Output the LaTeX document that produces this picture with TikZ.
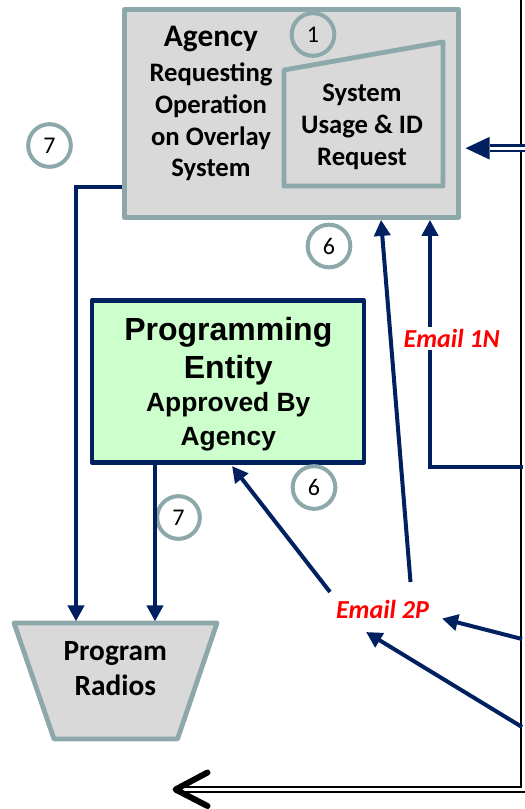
\documentclass[tikz,border=0pt]{standalone}
\usepackage{fontspec}
\setmainfont{Carlito}
\newfontfamily\arialf{Liberation Sans}
\usetikzlibrary{arrows.meta}
\definecolor{navyc}{HTML}{002060}
\definecolor{grayedge}{RGB}{140,168,170}
\definecolor{boxgray}{HTML}{D9D9D9}
\definecolor{progfill}{HTML}{CCFFCC}
\definecolor{redc}{HTML}{FF0000}
\begin{document}
\begin{tikzpicture}[x=0.75pt,y=-0.75pt,
  graybox/.style={draw=grayedge, fill=boxgray, line width=3.6pt, line join=round},
  agencybox/.style={graybox, rectangle, minimum width=250.5pt, minimum height=156pt, inner sep=0pt},
  progbox/.style={draw=navyc, fill=progfill, line width=3.6pt, line join=round, rectangle, minimum width=204pt, minimum height=121.5pt, inner sep=0pt},
  ghost/.style={rectangle, inner sep=0pt, outer sep=1.2pt, minimum width=152.25pt, minimum height=87pt},
  numcirc/.style={circle, draw=grayedge, line width=3pt, minimum size=32pt, inner sep=0pt, font=\fontsize{18}{18}\selectfont},
  conn/.style={draw=navyc, line width=3pt, -{Triangle[length=12pt,width=12pt]}},
  emaillbl/.style={text=redc, font=\fontsize{19.5}{19.5}\selectfont\bfseries\itshape, inner sep=1.5pt, anchor=base},
  agtitle/.style={font=\fontsize{23.5}{23.5}\selectfont\bfseries, anchor=base, inner sep=0pt},
  agsub/.style={font=\fontsize{20}{20}\selectfont\bfseries, anchor=base, inner sep=0pt},
  radtxt/.style={font=\fontsize{22}{22}\selectfont\bfseries, anchor=base, inner sep=0pt},
  progbig/.style={font=\arialf\fontsize{24}{24}\selectfont\bfseries, anchor=base, inner sep=0pt},
  progsmall/.style={font=\arialf\fontsize{19.8}{19.8}\selectfont\bfseries, anchor=base, inner sep=0pt}
]
\useasboundingbox (0,0) rectangle (524,809);

% black frame on the right and bottom
\coordinate (frTop) at (523.5,-6);
\coordinate (frCorner) at (523.5,789.5);
\coordinate (frEnd) at (182,789.5);
\draw[black, line width=1.6pt, double=white, double distance=2.2pt] (frTop) -- (frCorner) -- (frEnd);
\coordinate (chevTip) at (175.5,789.5);
\draw[black, line width=4.5pt, line cap=round, line join=round] (207.5,772.5) -- (chevTip) -- (207.5,806);

% Agency box
\node[agencybox] (agency) at (291.5,113.5) {};
\draw[graybox] (284,70) -- (443,42) -- (443,186) -- (284,186) -- cycle;
\node[agtitle] (agt1) at (211,47) {Agency};
\node[agsub] (agt2) at (211,82) {Requesting};
\node[agsub] (agt3) at (211,113.7) {Operation};
\node[agsub] (agt4) at (211,145.4) {on Overlay};
\node[agsub] (agt5) at (211,177) {System};
\node[agsub] (sr1) at (362,102) {System};
\node[agsub] (sr2) at (362,134) {Usage \& ID};
\node[agsub] (sr3) at (362,165.7) {Request};

% Programming entity
\node[progbox] (prog) at (228,381.5) {};
\node[progbig] (pe1) at (228.3,340) {Programming};
\node[progbig] (pe2) at (228.3,378.3) {Entity};
\node[progsmall] (pe3) at (228.3,411.7) {Approved By};
\node[progsmall] (pe4) at (228.3,445) {Agency};

% Program radios
\node[ghost] (radios) at (115.5,681) {};
\draw[graybox] (14,623) -- (217,623) -- (177.5,739) -- (54,739) -- cycle;
\node[radtxt] (pr1) at (115.3,660) {Program};
\node[radtxt] (pr2) at (115.3,695) {Radios};

% numbered circles
\node[numcirc] (n1) at (313,34.5) {1};
\node[numcirc] (n7a) at (49.5,145.5) {7};
\node[numcirc] (n6a) at (329,246) {6};
\node[numcirc] (n6b) at (314,487.5) {6};
\node[numcirc] (n7b) at (178.5,517.5) {7};

% connectors
\coordinate (bendA) at (76,187);
\draw[conn] (agency.west |- bendA) -- (bendA) -- (bendA |- radios.north);
\coordinate (dropB) at (155,500);
\draw[conn] (prog.south -| dropB) -- (dropB |- radios.north);

\node[emaillbl] (e2p) at (382.5,618.3) {Email 2P};
\coordinate (e2pA) at (330,592);
\coordinate (progTip) at (232,466);
\draw[conn] (e2pA) -- (progTip);
\coordinate (e2pB) at (410.5,582);
\coordinate (agB) at (381,300);
\draw[conn] (e2pB) -- (agency.south -| agB);

\coordinate (r1) at (523,467);
\coordinate (k1) at (430,467);
\draw[conn] (r1) -- (k1) -- (agency.south -| k1);
\node[emaillbl, fill=white] (e1n) at (451.7,347.7) {Email 1N};

\coordinate (r2) at (522,639);
\coordinate (t2) at (442,618.5);
\draw[conn] (r2) -- (t2);
\coordinate (r3) at (522,727);
\coordinate (t3) at (366,632);
\draw[conn] (r3) -- (t3);

\coordinate (r4) at (526,148.2);
\draw[navyc, line width=1.7pt, double=white, double distance=2.4pt, shorten >=3.5pt,
  -{Triangle[length=18pt,width=17pt,line width=0pt]}] (r4) -- (agency.east |- r4);
\end{tikzpicture}
\end{document}
